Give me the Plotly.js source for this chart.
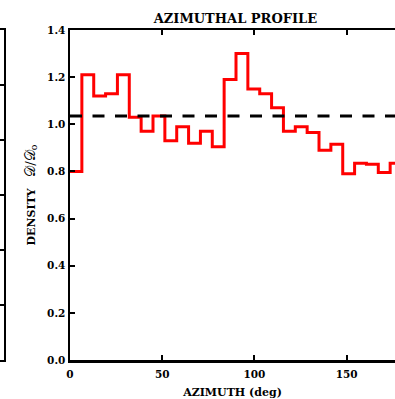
<!DOCTYPE html>
<html>
<head>
<meta charset="utf-8">
<script src="https://cdn.plot.ly/plotly-3.0.1.min.js"></script>
<style>html,body{margin:0;padding:0;background:#fff;}#chart{width:395px;height:399px;}</style>
</head>
<body>
<div id="chart"></div>
<script>
// Azimuthal bin starts (deg), 28 bins of 180/28 deg, last entry is the closing edge
const azimuthEdges = [0, 6.43, 12.86, 19.29, 25.71, 32.14, 38.57, 45.00, 51.43, 57.86,
  64.29, 70.71, 77.14, 83.57, 90.00, 96.43, 102.86, 109.29, 115.71, 122.14,
  128.57, 135.00, 141.43, 147.86, 154.29, 160.71, 167.14, 173.57, 180.00];
// Density ratio per bin
const densityRatio = [0.80, 1.21, 1.12, 1.13, 1.21, 1.03, 0.97, 1.035, 0.93, 0.99,
  0.92, 0.97, 0.905, 1.19, 1.30, 1.15, 1.13, 1.07, 0.97, 0.99,
  0.965, 0.89, 0.915, 0.79, 0.835, 0.83, 0.795, 0.835];
const meanLevel = [1.035];
const xTickVals = [0, 50, 100, 150];
const xTickText = ['0', '50', '100', '150'];
const yTickVals = [0, 0.2, 0.4, 0.6, 0.8, 1.0, 1.2, 1.4];
const yTickText = ['0.0', '0.2', '0.4', '0.6', '0.8', '1.0', '1.2', '1.4'];
const neighbourTicks = [1, 2, 3, 4, 5];

const stepY = densityRatio.concat([densityRatio[densityRatio.length - 1]]);
const xEnds = [azimuthEdges[0], azimuthEdges[azimuthEdges.length - 1]];

const font = {family: 'DejaVu Serif', size: 10.5, color: '#000', weight: 'bold'};

const traces = [
  {x: azimuthEdges, y: stepY, type: 'scatter', mode: 'lines',
   line: {shape: 'hv', color: '#ff0000', width: 3}, hoverinfo: 'skip'},
  {x: xEnds, y: [meanLevel[0], meanLevel[0]], type: 'scatter', mode: 'lines',
   line: {color: '#000', width: 3, dash: '12px,10.5px'}, hoverinfo: 'skip'},
  {x: [], y: [], type: 'scatter', mode: 'lines', xaxis: 'x2', yaxis: 'y2', hoverinfo: 'skip'}
];

const layout = {
  width: 395, height: 399,
  margin: {l: 0, r: 0, t: 30, b: 39, pad: 0},
  paper_bgcolor: '#fff', plot_bgcolor: '#fff',
  showlegend: false,
  font: font,
  title: {text: 'AZIMUTHAL PROFILE', font: {family: 'DejaVu Serif', size: 13, color: '#000', weight: 'bold'},
          x: 0.596, xref: 'container', xanchor: 'center', y: 0.955, yref: 'container', yanchor: 'middle'},
  xaxis: {domain: [70/395, 1], range: [0, 176.2], showgrid: false, zeroline: false,
          showline: true, linecolor: '#000', linewidth: 2.5, mirror: 'ticks',
          ticks: 'inside', ticklen: 5, tickwidth: 2, tickcolor: '#000', ticklabelstandoff: 3,
          tickvals: xTickVals, ticktext: xTickText, tickfont: font, automargin: false,
          title: {text: 'AZIMUTH (deg)', font: {family: 'DejaVu Serif', size: 11, color: '#000', weight: 'bold'}, standoff: 9}},
  yaxis: {range: [0, 1.4], showgrid: false, zeroline: false,
          showline: true, linecolor: '#000', linewidth: 2.5, mirror: false,
          ticks: 'inside', ticklen: 5, tickwidth: 2, tickcolor: '#000',
          tickvals: yTickVals, ticktext: yTickText, tickfont: font, automargin: false,
          title: {text: 'DENSITY&nbsp;&nbsp;&nbsp;<span style="font-weight:normal;font-size:13.5px">𝒟/𝒟<sub>o</sub></span>',
                  font: {family: 'DejaVu Serif', size: 11, color: '#000', weight: 'bold'}, standoff: 10}},
  xaxis2: {domain: [0, 4/395], anchor: 'y2', range: [0, 1], showgrid: false, zeroline: false,
           showline: true, linecolor: '#000', linewidth: 2, mirror: true,
           ticks: '', showticklabels: false},
  yaxis2: {anchor: 'x2', side: 'right', range: [0, 6], showgrid: false, zeroline: false,
           showline: true, linecolor: '#000', linewidth: 2, mirror: false,
           ticks: 'inside', ticklen: 5, tickwidth: 2, tickcolor: '#000',
           tickvals: neighbourTicks, showticklabels: false}
};

Plotly.newPlot('chart', traces, layout, {displayModeBar: false, staticPlot: true});
</script>
</body>
</html>
